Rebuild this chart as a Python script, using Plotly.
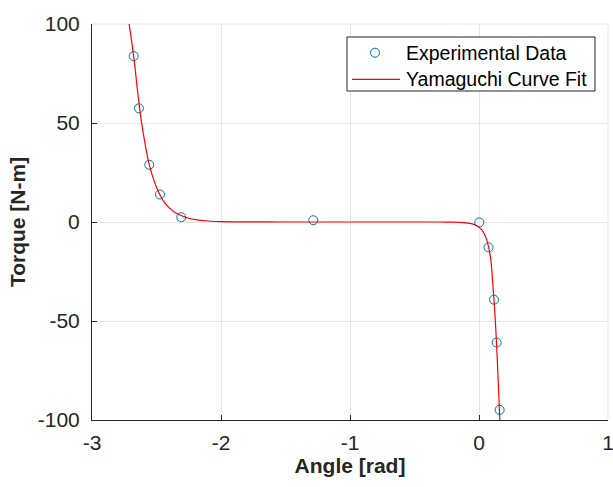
import plotly.graph_objects as go

# Experimental data
exp_angle = [-2.677, -2.636, -2.556, -2.473, -2.308, -1.285, 0.002, 0.074, 0.116, 0.137, 0.160]
exp_torque = [83.8, 57.4, 28.9, 13.9, 2.4, 0.9, -0.2, -12.8, -39.2, -60.9, -94.9]

# Curve fit
fit_angle = [-2.712, -2.69, -2.67, -2.65, -2.62, -2.59, -2.56, -2.52, -2.48, -2.44, -2.40,
             -2.35, -2.30, -2.25, -2.20, -2.10, -2.00, -1.80, -1.50, -1.00, -0.50, -0.30,
             -0.20, -0.15, -0.10, -0.06, -0.03, 0.00, 0.02, 0.04, 0.06, 0.08, 0.095,
             0.11, 0.12, 0.13, 0.14, 0.15, 0.16, 0.162]
fit_torque = [100, 90, 80, 68, 52, 40, 30, 21, 14.5, 10, 7,
              4.6, 3.0, 1.9, 1.2, 0.5, 0.2, 0.05, 0, 0, 0, 0,
              -0.1, -0.2, -0.4, -0.8, -1.5, -2.6, -3.8, -5.8, -9.0, -14.5, -21,
              -34, -43, -54, -67, -82, -98, -100]

x_ticks = [-3, -2, -1, 0, 1]
y_ticks = [-100, -50, 0, 50, 100]
legend_labels = ["Experimental Data", "Yamaguchi Curve Fit"]

MARKER_COLOR = "#0072BD"
LINE_COLOR = "#FF0000"
AX_COLOR = "#262626"
font_family = "Liberation Sans, Arial, sans-serif"

fig = go.Figure()
fig.add_trace(go.Scatter(
    x=exp_angle, y=exp_torque, mode="markers", name=legend_labels[0],
    marker=dict(symbol="circle-open", size=9, color=MARKER_COLOR, line=dict(width=1)),
    showlegend=False,
))
fig.add_trace(go.Scatter(
    x=fit_angle, y=fit_torque, mode="lines", name=legend_labels[1],
    line=dict(color=LINE_COLOR, width=1.2, shape="spline", smoothing=0.6),
    showlegend=False,
))

axis_common = dict(
    showgrid=True, gridcolor="#E6E6E6", gridwidth=1,
    zeroline=False, showline=True, linecolor=AX_COLOR, linewidth=1,
    ticks="inside", ticklen=5, tickcolor=AX_COLOR,
    tickfont=dict(family=font_family, size=21, color=AX_COLOR),
    mirror=False, automargin=False, ticklabeloverflow="allow",
)
fig.update_layout(
    width=613, height=487,
    margin=dict(l=92, r=5, t=24, b=67),
    paper_bgcolor="white", plot_bgcolor="white",
    xaxis=dict(range=[-3, 1], tickvals=x_ticks, ticktext=[str(v) for v in x_ticks],
               ticklabelstandoff=4,
               title=dict(text="<b>Angle [rad]</b>", font=dict(family=font_family, size=21, color=AX_COLOR), standoff=2),
               **axis_common),
    yaxis=dict(range=[-100, 100], tickvals=y_ticks, ticktext=[str(v) for v in y_ticks],
               ticklabelstandoff=7,
               title=dict(text="<b>Torque [N-m]</b>", font=dict(family=font_family, size=21, color=AX_COLOR), standoff=6),
               **axis_common),
    showlegend=False,
)
# top and right light border lines
fig.add_shape(type="line", xref="paper", yref="paper", x0=0, x1=1, y0=1, y1=1,
              line=dict(color="#E6E6E6", width=1), layer="below")
fig.add_shape(type="line", xref="paper", yref="paper", x0=1, x1=1, y0=0, y1=1,
              line=dict(color="#E6E6E6", width=1), layer="below")

# Legend (MATLAB style) drawn in paper coordinates
box_x0, box_x1, box_y0, box_y1 = 0.4942, 0.9748, 0.8308, 0.9672
row_y = [0.9275, 0.8604]
sym_x0, sym_xc, sym_x1, text_x = 0.5039, 0.5484, 0.5969, 0.6047
fig.add_shape(type="rect", xref="paper", yref="paper", x0=box_x0, x1=box_x1, y0=box_y0, y1=box_y1,
              fillcolor="white", line=dict(color=AX_COLOR, width=1), layer="above")
fig.add_shape(type="circle", xref="paper", yref="paper", xsizemode="pixel", ysizemode="pixel",
              xanchor=sym_xc, yanchor=row_y[0], x0=-4.5, x1=4.5, y0=-4.5, y1=4.5,
              line=dict(color=MARKER_COLOR, width=1), layer="above")
fig.add_shape(type="line", xref="paper", yref="paper", x0=sym_x0, x1=sym_x1, y0=row_y[1], y1=row_y[1],
              line=dict(color=LINE_COLOR, width=1.2), layer="above")
for lab, yy in zip(legend_labels, row_y):
    fig.add_annotation(text=lab, xref="paper", yref="paper", x=text_x, y=yy,
                       xanchor="left", yanchor="middle", showarrow=False,
                       font=dict(family=font_family, size=19.5, color="#000000"))

fig.write_html("out.html")
